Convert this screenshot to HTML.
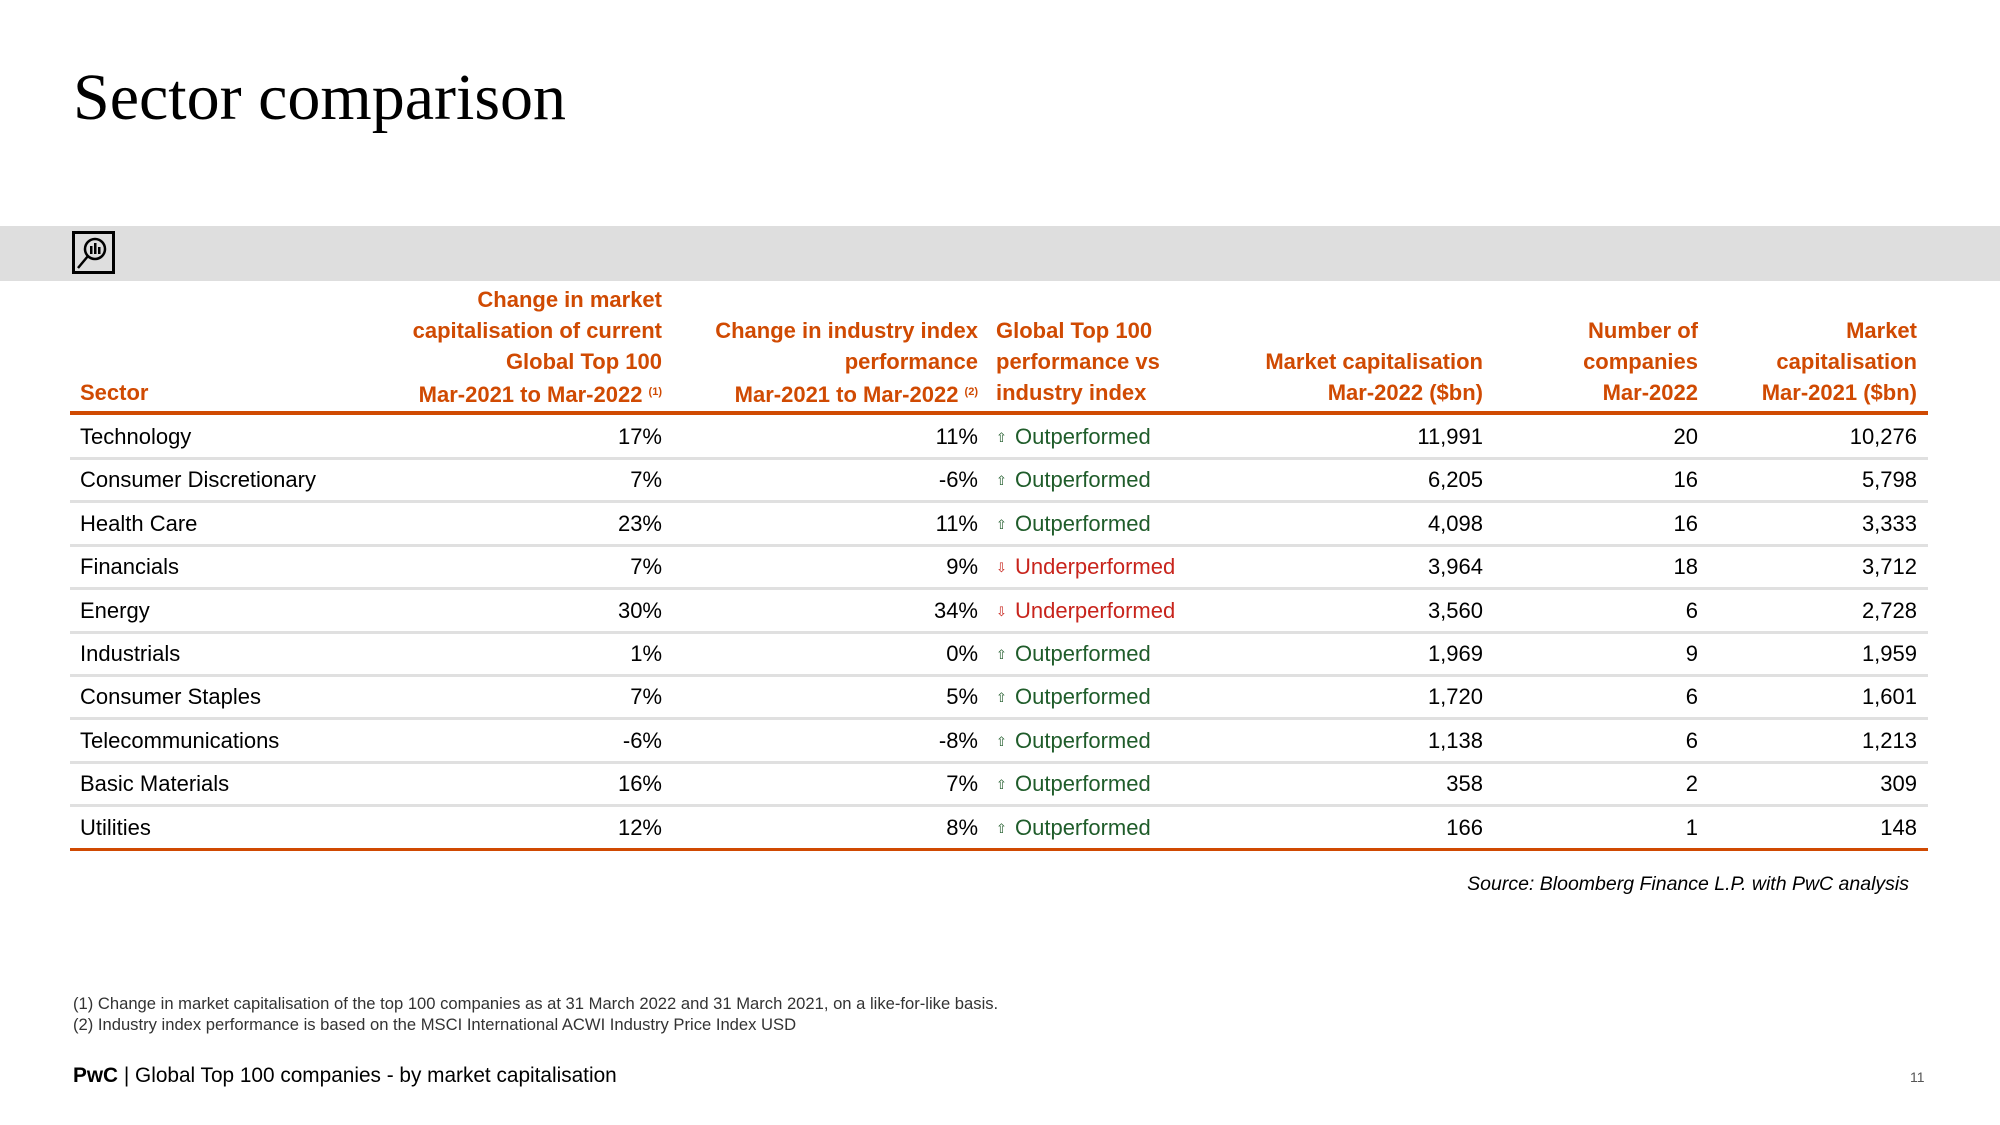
<!DOCTYPE html>
<html><head><meta charset="utf-8"><style>
*{margin:0;padding:0;box-sizing:border-box}
body{width:2000px;height:1125px;background:#fff;position:relative;font-family:"Liberation Sans",Arial,sans-serif;overflow:hidden;color:#000}
.t{position:absolute;white-space:nowrap}
.title{left:73px;top:60px;font-family:"Liberation Serif",serif;font-size:66px}
.band{position:absolute;left:0;top:226px;width:2000px;height:55px;background:#dedede}
.icon{position:absolute;left:72px;top:231px;width:43px;height:43px;border:3px solid #000;background:#dedede}
.h{color:#D04A02;font-weight:bold;font-size:22px;line-height:31px;position:absolute;top:284px;white-space:nowrap}
.r{text-align:right}
.rule{position:absolute;left:70px;width:1858px;height:4px;background:#D04A02}
.sep{position:absolute;left:70px;width:1858px;height:3px;background:#e0e0e0}
.c{position:absolute;font-size:22px;white-space:nowrap;line-height:24px}
.g{color:#1f5c2a}.rd{color:#c8241c}
sup{font-size:11px;vertical-align:7px}
.ar{font-size:13px;display:inline-block;width:19px;vertical-align:2px}
</style></head><body>
<div class="t title">Sector comparison</div>
<div class="band"></div>
<div class="icon"><svg width="37" height="37" viewBox="0 0 37 37"><circle cx="20" cy="15" r="10" fill="none" stroke="#000" stroke-width="2.5"/><line x1="13" y1="22" x2="3" y2="34" stroke="#000" stroke-width="2.5"/><rect x="15" y="12" width="2.5" height="8" fill="#000"/><rect x="19" y="9" width="2.5" height="11" fill="#000"/><rect x="23" y="13" width="2.5" height="7" fill="#000"/></svg></div>

<div class="h" style="left:80px;top:377px">Sector</div>
<div class="h r" style="right:1338px">Change in market<br>capitalisation of current<br>Global Top 100<br>Mar-2021 to Mar-2022 <sup>(1)</sup></div>
<div class="h r" style="right:1022px;top:315px">Change in industry index<br>performance<br>Mar-2021 to Mar-2022 <sup>(2)</sup></div>
<div class="h" style="left:996px;top:315px">Global Top 100<br>performance vs<br>industry index</div>
<div class="h r" style="right:517px;top:346px">Market capitalisation<br>Mar-2022 ($bn)</div>
<div class="h r" style="right:302px;top:315px">Number of<br>companies<br>Mar-2022</div>
<div class="h r" style="right:83px;top:315px">Market<br>capitalisation<br>Mar-2021 ($bn)</div>

<div class="rule" style="top:411px"></div>
<div class="rule" style="top:848px;height:3px"></div>

<div id="rows"></div>
<script>
var d=[["Technology","17%","11%",1,"11,991","20","10,276"],["Consumer Discretionary","7%","-6%",1,"6,205","16","5,798"],["Health Care","23%","11%",1,"4,098","16","3,333"],["Financials","7%","9%",0,"3,964","18","3,712"],["Energy","30%","34%",0,"3,560","6","2,728"],["Industrials","1%","0%",1,"1,969","9","1,959"],["Consumer Staples","7%","5%",1,"1,720","6","1,601"],["Telecommunications","-6%","-8%",1,"1,138","6","1,213"],["Basic Materials","16%","7%",1,"358","2","309"],["Utilities","12%","8%",1,"166","1","148"]];
var h="";
for(var i=0;i<d.length;i++){var y=425+i*43.4,r=d[i];
h+='<div class="c" style="left:80px;top:'+y+'px">'+r[0]+'</div>';
h+='<div class="c" style="right:1338px;top:'+y+'px">'+r[1]+'</div>';
h+='<div class="c" style="right:1022px;top:'+y+'px">'+r[2]+'</div>';
h+='<div class="c '+(r[3]?'g':'rd')+'" style="left:996px;top:'+y+'px"><span class="ar">'+(r[3]?'⇧':'⇩')+'</span>'+(r[3]?'Outperformed':'Underperformed')+'</div>';
h+='<div class="c" style="right:517px;top:'+y+'px">'+r[4]+'</div>';
h+='<div class="c" style="right:302px;top:'+y+'px">'+r[5]+'</div>';
h+='<div class="c" style="right:83px;top:'+y+'px">'+r[6]+'</div>';
if(i<9)h+='<div class="sep" style="top:'+(457+i*43.4)+'px"></div>';}
document.getElementById("rows").innerHTML=h;
</script>
<div class="t" style="right:91px;top:873px;font-size:19.5px;font-style:italic">Source: Bloomberg Finance L.P. with PwC analysis</div>
<div class="t" style="left:73px;top:994px;font-size:16.6px;color:#333">(1) Change in market capitalisation of the top 100 companies as at 31 March 2022 and 31 March 2021, on a like-for-like basis.</div>
<div class="t" style="left:73px;top:1015px;font-size:16.6px;color:#333">(2) Industry index performance is based on the MSCI International ACWI Industry Price Index USD</div>
<div class="t" style="left:73px;top:1064px;font-size:20.8px"><b>PwC</b> | Global Top 100 companies - by market capitalisation</div>
<div class="t" style="left:1910px;top:1069px;font-size:14px;color:#555">11</div>
</body></html>
